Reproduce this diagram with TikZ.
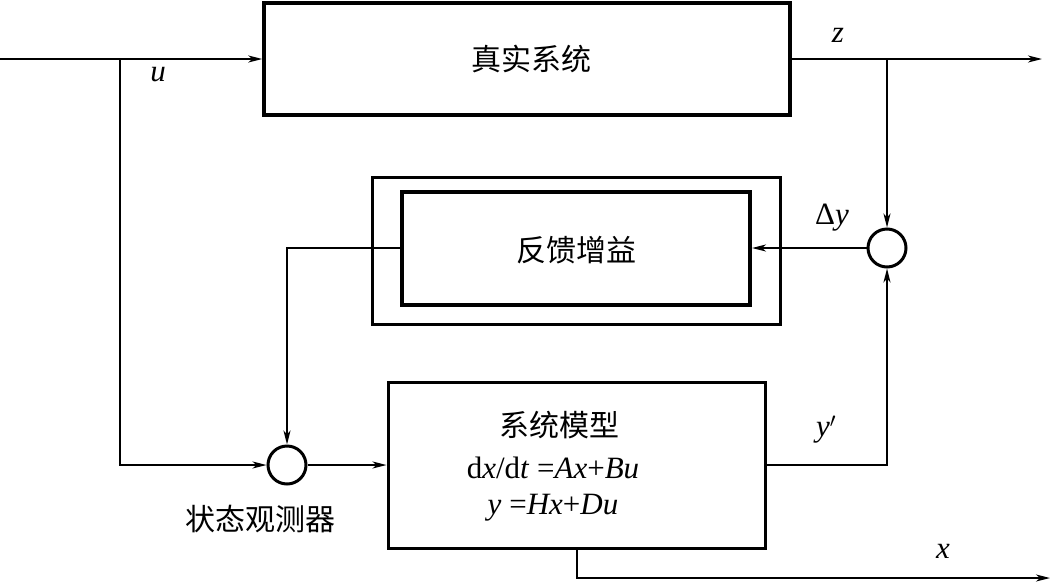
\documentclass[tikz,border=0pt]{standalone}
\usepackage{fontspec}
\setmainfont{Liberation Serif}
\newfontfamily\cjk{Noto Sans CJK SC}
\usetikzlibrary{arrows.meta}
\begin{document}
\begin{tikzpicture}[x=1pt,y=-1pt,
  line/.style={line width=1.7pt},
  arr/.style={line width=1.7pt,-{Stealth[length=14pt,width=7pt,inset=4pt]}},
  blk/.style={draw,rectangle,inner sep=0pt,line width=3pt},
  sum/.style={circle,draw,line width=3pt,minimum size=38pt,inner sep=0pt},
  cn/.style={font=\cjk\fontsize{30}{34}\selectfont},
  lab/.style={font=\fontsize{31}{36}\selectfont}]
\useasboundingbox (0,0) rectangle (1054,584);
% blocks
\node[blk,line width=3.5pt,minimum width=526pt,minimum height=112pt] (real) at (527,59) {};
\node[cn] (realt) at (531,59) {真实系统};
\node[blk,minimum width=408pt,minimum height=147pt] (gainouter) at (576,250.5) {};
\node[blk,line width=4pt,minimum width=348pt,minimum height=113pt] (gain) at (576,248) {};
\node[cn] (gaint) at (576,250) {反馈增益};
\node[blk,minimum width=377pt,minimum height=166pt] (model) at (576.5,465) {};
\node[cn] (modelt) at (559,425) {系统模型};
\node[lab] (eq1) at (553,468) {d\textit{x}/d\textit{t} =\textit{Ax}+\textit{Bu}};
\node[lab] (eq2) at (553,508) {\textit{y} =\textit{Hx}+\textit{Du}};
\node[sum] (s1) at (287,465) {};
\node[sum] (s2) at (887,248) {};
\node[cn] (obs) at (260,519) {状态观测器};
% labels
\node[lab] (lu) at (158,75) {\textit{u}};
\node[lab] (lz) at (838,35) {\textit{z}};
\node[lab] (ldy) at (832,218) {Δ\textit{y}};
\node[lab] (lyp) at (826,430) {\textit{y}$'$};
\node[lab] (lx) at (943,551) {\textit{x}};
% coordinates
\coordinate (in) at (0,59);
\coordinate (bu) at (120,59);
\coordinate (bz) at (887,59);
\coordinate (zout) at (1042,59);
\coordinate (xout) at (1050,578);
% connectors
\draw[arr] (in) -- (real.west);
\draw[arr] (bu) |- (s1.west);
\draw[arr] (s1.east) -- (model.west);
\draw[arr] (real.east) -- (zout);
\draw[arr] (bz) -- (s2.north);
\draw[arr] (s2.west) -- (gain.east);
\draw[arr] (gain.west) -| (s1.north);
\draw[arr] (model.east) -| (s2.south);
\draw[arr] ([xshift=0.5pt]model.south) |- (xout);
\end{tikzpicture}
\end{document}
